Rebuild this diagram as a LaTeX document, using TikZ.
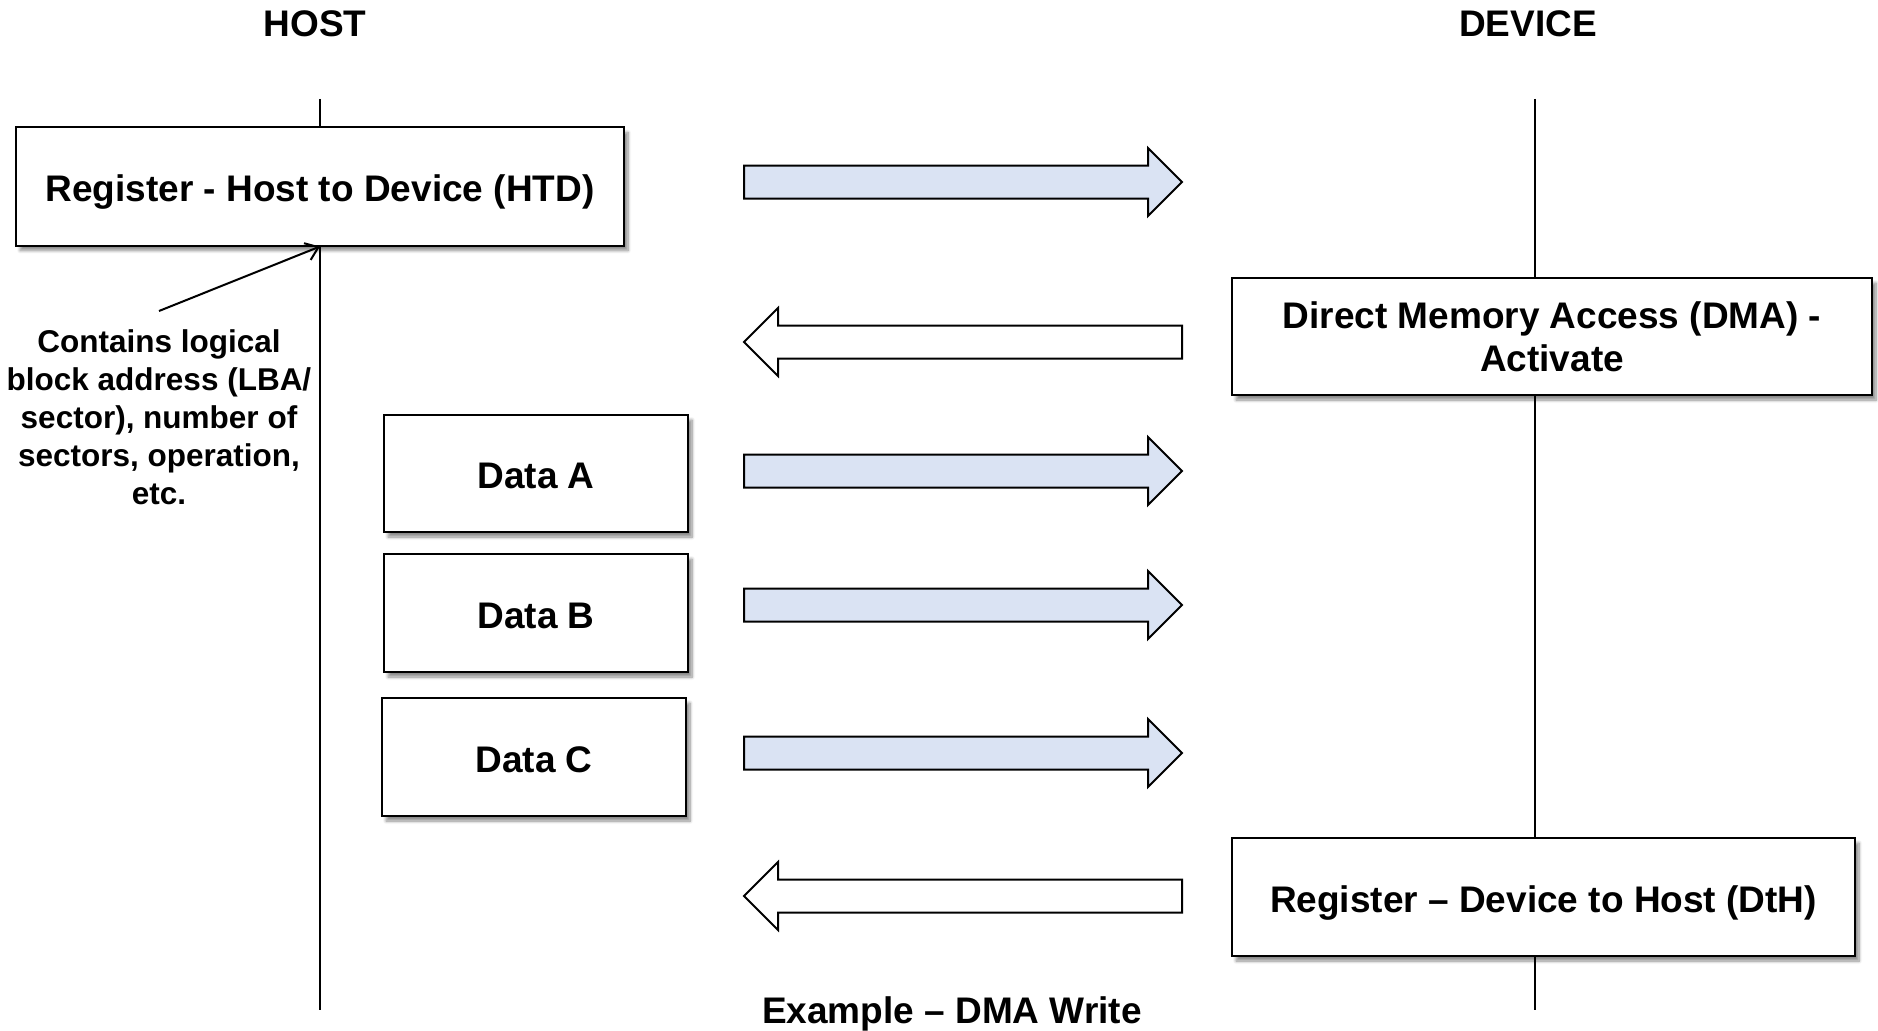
\documentclass[tikz,border=0pt]{standalone}
\usepackage{fontspec}
\setmainfont{Liberation Sans}
\usetikzlibrary{arrows.meta,shadows.blur}

\definecolor{flowblue}{HTML}{DAE3F3}

\tikzset{
  lbl/.style={font=\fontsize{37}{43}\selectfont\bfseries, inner sep=0pt, align=center},
  msgbox/.style={draw, line width=2pt, fill=white, inner sep=0pt, align=center,
    font=\fontsize{37}{43}\selectfont\bfseries,
    blur shadow={shadow xshift=4pt, shadow yshift=-5pt, shadow blur radius=3pt,
                 shadow blur steps=8, shadow opacity=45}},
  oneline/.style={text height=30.5pt, text depth=0pt},
  lifeline/.style={line width=2pt},
  flowR/.style={draw, line width=2pt, fill=flowblue, line join=miter},
  flowL/.style={draw, line width=2pt, fill=white, line join=miter},
  note/.style={line width=2pt, -{Straight Barb[length=12pt, width=18pt, line width=2pt]}},
}

% block arrow pointing right: #1 = centre line y
\newcommand\toDevice[1]{%
  \path[flowR, shift={(0,#1)}] (744,-16.5) -- (1148,-16.5) -- (1148,-34) -- (1182,0)
    -- (1148,34) -- (1148,16.5) -- (744,16.5) -- cycle;}
% block arrow pointing left: #1 = centre line y
\newcommand\toHost[1]{%
  \path[flowL, shift={(0,#1)}] (1182,-16.5) -- (778,-16.5) -- (778,-34) -- (744,0)
    -- (778,34) -- (778,16.5) -- (1182,16.5) -- cycle;}

\begin{document}
\begin{tikzpicture}[x=1pt, y=-1pt]
\useasboundingbox (0,0) rectangle (1878,1030);

% column headings
\node[lbl] (hosthead) at (315,24) {HOST};
\node[lbl] (devhead) at (1528,24) {DEVICE};

% lifelines
\coordinate (hosttop) at (320,99);
\coordinate (hostbot) at (320,1010);
\coordinate (devtop) at (1535,99);
\coordinate (devbot) at (1535,1010);
\draw[lifeline] (hosttop) -- (hostbot);
\draw[lifeline] (devtop) -- (devbot);

% host side frames
\node[msgbox, oneline, minimum width=608, minimum height=118] (htd) at (320,186.5)
  {Register - Host to Device (HTD)};
\node[msgbox, oneline, minimum width=304, minimum height=117] (dataA) at (536,473.5) {Data A};
\node[msgbox, oneline, minimum width=304, minimum height=118] (dataB) at (536,613) {Data B};
\node[msgbox, oneline, minimum width=304, minimum height=118] (dataC) at (534,757) {Data C};

% device side frames
\node[msgbox, text depth=-5pt, minimum width=640, minimum height=117] (dma) at (1552,336.5)
  {Direct Memory Access (DMA) -\\Activate};
\node[msgbox, oneline, minimum width=623, minimum height=118] (dth) at (1543.5,897)
  {Register -- Device to Host (DtH)};

% transfers between host and device
\toDevice{182}
\toHost{342}
\toDevice{471}
\toDevice{605}
\toDevice{753}
\toHost{896}

% annotation of the HTD register
\node[font=\fontsize{31.5}{38}\selectfont\bfseries, align=center, inner sep=0pt]
  (notetext) at (159,417)
  {Contains logical\\block address (LBA/\\sector), number of\\sectors, operation,\\etc.};
\coordinate (notetail) at (159,311);
\draw[note] (notetail) -- (htd.south);

% caption
\node[lbl, anchor=base] (caption) at (952,1023) {Example -- DMA Write};
\end{tikzpicture}
\end{document}
